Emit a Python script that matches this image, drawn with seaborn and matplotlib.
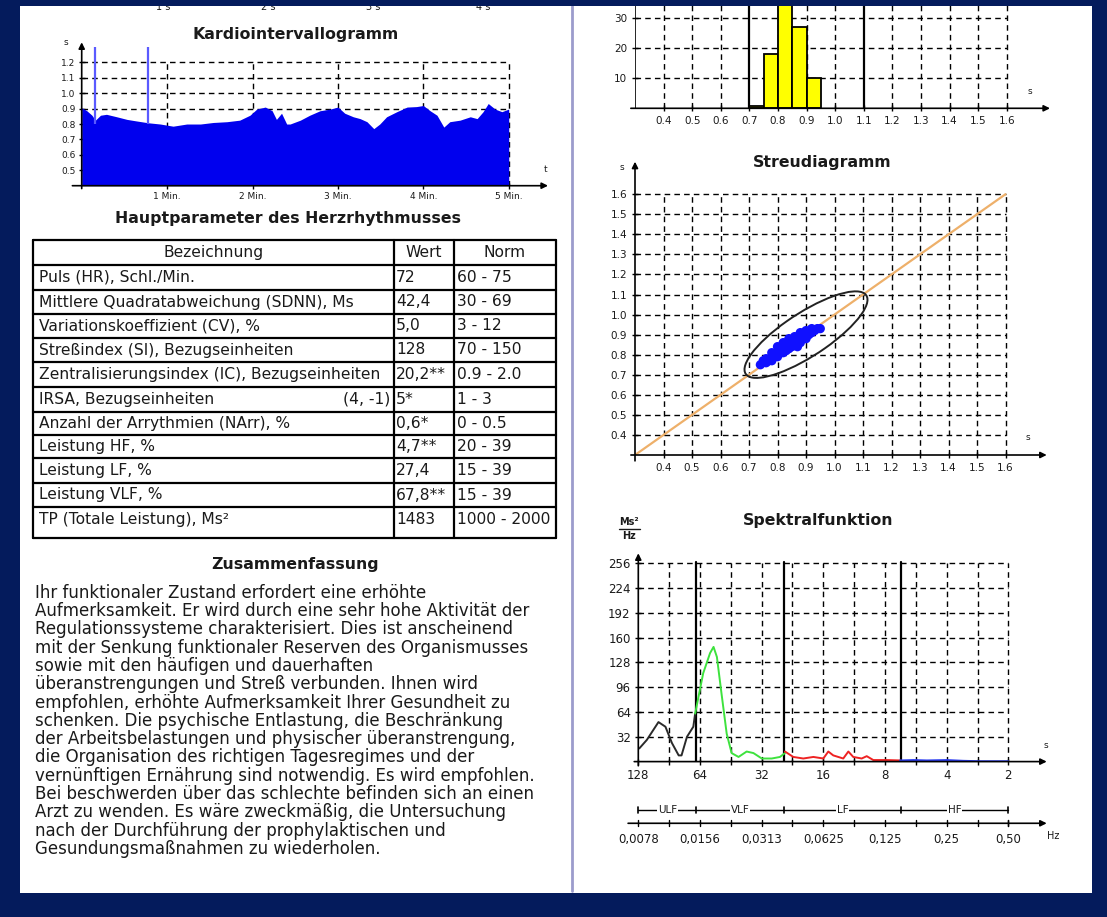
import matplotlib
matplotlib.use("Agg")
import matplotlib.pyplot as plt
import seaborn as sns
from matplotlib.patches import Rectangle, Ellipse
from matplotlib.ticker import NullFormatter

sns.set_theme(style="white")
plt.rcParams["font.family"] = ["DejaVu Sans"]

W, H = 1107, 917
NAVY = "#041b5c"

# ----------------------------
# Data
# ----------------------------
# Kardiointervallogramm: time (min) and RR interval (s)
kardio_t = [0.00, 0.06, 0.12, 0.16, 0.22, 0.29, 0.41, 0.53, 0.64, 0.78,
            0.92, 1.07, 1.23, 1.39, 1.54, 1.70, 1.85, 1.97, 2.05, 2.15,
            2.23, 2.28, 2.34, 2.40, 2.44, 2.56, 2.67, 2.79, 2.91, 3.00,
            3.08, 3.18, 3.26, 3.34, 3.42, 3.49, 3.57, 3.69, 3.81, 3.92,
            4.00, 4.08, 4.16, 4.24, 4.31, 4.43, 4.55, 4.63, 4.70, 4.76,
            4.84, 4.92, 5.00]
kardio_rr = [0.906, 0.886, 0.857, 0.825, 0.857, 0.863, 0.847, 0.830, 0.820, 0.808,
             0.800, 0.786, 0.800, 0.800, 0.810, 0.815, 0.825, 0.857, 0.897, 0.910,
             0.886, 0.830, 0.870, 0.800, 0.800, 0.825, 0.857, 0.886, 0.897, 0.910,
             0.870, 0.847, 0.835, 0.815, 0.770, 0.800, 0.847, 0.880, 0.910, 0.913,
             0.920, 0.886, 0.857, 0.780, 0.815, 0.825, 0.847, 0.835, 0.880, 0.933,
             0.897, 0.880, 0.897]
spike_t = [0.156, 0.78]
spike_top = [1.30, 1.30]
kardio_yticks = [0.5, 0.6, 0.7, 0.8, 0.9, 1.0, 1.1, 1.2]
kardio_minutes = [1, 2, 3, 4, 5]
top_labels = ["1 s", "2 s", "3 s", "4 s"]

# Histogram of RR intervals
hist_left = [0.70, 0.75, 0.80, 0.85, 0.90]
hist_counts = [0.6, 18, 40, 27, 10]
hist_width = 0.05
axis_s_ticks = [0.4, 0.5, 0.6, 0.7, 0.8, 0.9, 1.0, 1.1, 1.2, 1.3, 1.4, 1.5, 1.6]
hist_yticks = [10, 20, 30]
hist_solid = [0.7, 1.1]

# Streudiagramm (RR_n vs RR_n+1)
rr_n = [0.74, 0.75, 0.76, 0.76, 0.77, 0.78, 0.78, 0.79, 0.80, 0.80,
        0.81, 0.82, 0.82, 0.83, 0.84, 0.84, 0.85, 0.86, 0.86, 0.87,
        0.88, 0.88, 0.89, 0.90, 0.90, 0.91, 0.92, 0.93, 0.94, 0.95,
        0.80, 0.82, 0.84, 0.86, 0.88, 0.90, 0.78, 0.83, 0.87, 0.92]
rr_n1 = [0.75, 0.77, 0.76, 0.78, 0.77, 0.79, 0.77, 0.80, 0.79, 0.81,
         0.81, 0.83, 0.81, 0.84, 0.83, 0.86, 0.84, 0.86, 0.87, 0.86,
         0.88, 0.86, 0.89, 0.88, 0.90, 0.90, 0.91, 0.92, 0.93, 0.93,
         0.84, 0.86, 0.88, 0.89, 0.91, 0.92, 0.81, 0.82, 0.84, 0.93]
diag = [0.3, 1.6]
ellipse_center = (0.90, 0.90)
ellipse_len, ellipse_wid = 0.58, 0.19

# Spektralfunktion: frequency (Hz) and power (Ms^2/Hz)
ulf_f = [0.0079, 0.0086, 0.0098, 0.0106, 0.0114, 0.0123, 0.0127, 0.0135, 0.0145, 0.0148]
ulf_p = [17, 28, 51, 45, 24, 8, 8, 32, 45, 62]
vlf_f = [0.0148, 0.0162, 0.0175, 0.0182, 0.0189, 0.0199, 0.0211, 0.0223, 0.0241,
         0.0264, 0.0285, 0.0313, 0.0350, 0.0384, 0.0406]
vlf_p = [62, 114, 140, 148, 135, 88, 36, 11, 6, 13, 11, 4, 4, 6, 11]
lf_f = [0.0406, 0.0446, 0.0499, 0.0559, 0.0625, 0.0661, 0.0699, 0.0782, 0.0828,
        0.0875, 0.0962, 0.1018, 0.1096, 0.1274, 0.148]
lf_p = [13, 6, 4, 6, 4, 13, 8, 4, 13, 6, 4, 7, 2, 2, 1.5]
hf_f = [0.148, 0.172, 0.200, 0.250, 0.302, 0.364, 0.500]
hf_p = [1.5, 2, 1.5, 2, 1, 0.5, 0.5]
spec_yticks = [32, 64, 96, 128, 160, 192, 224, 256]
periods = [128, 64, 32, 16, 8, 4, 2]
hz_labels = ["0,0078", "0,0156", "0,0313", "0,0625", "0,125", "0,25", "0,50"]
band_edges = [1 / 128, 0.015, 0.04, 0.15, 0.5]
band_names = ["ULF", "VLF", "LF", "HF"]

# Table
col_headers = ["Bezeichnung", "Wert", "Norm"]
param_names = ["Puls (HR), Schl./Min.",
               "Mittlere Quadratabweichung (SDNN), Ms",
               "Variationskoeffizient (CV), %",
               "Streßindex (SI), Bezugseinheiten",
               "Zentralisierungsindex (IC), Bezugseinheiten",
               "IRSA, Bezugseinheiten",
               "Anzahl der Arrythmien (NArr), %",
               "Leistung HF, %",
               "Leistung LF, %",
               "Leistung VLF, %",
               "TP (Totale Leistung), Ms²"]
param_values = ["72", "42,4", "5,0", "128", "20,2**", "5*", "0,6*", "4,7**", "27,4", "67,8**", "1483"]
param_norms = ["60 - 75", "30 - 69", "3 - 12", "70 - 150", "0.9 - 2.0", "1 - 3",
               "0 - 0.5", "20 - 39", "15 - 39", "15 - 39", "1000 - 2000"]

summary_lines = [
    "Ihr funktionaler Zustand erfordert eine erhöhte",
    "Aufmerksamkeit. Er wird durch eine sehr hohe Aktivität der",
    "Regulationssysteme charakterisiert. Dies ist anscheinend",
    "mit der Senkung funktionaler Reserven des Organismusses",
    "sowie mit den häufigen und dauerhaften",
    "überanstrengungen und Streß verbunden. Ihnen wird",
    "empfohlen, erhöhte Aufmerksamkeit Ihrer Gesundheit zu",
    "schenken. Die psychische Entlastung, die Beschränkung",
    "der Arbeitsbelastungen und physischer überanstrengung,",
    "die Organisation des richtigen Tagesregimes und der",
    "vernünftigen Ernährung sind notwendig. Es wird empfohlen.",
    "Bei beschwerden über das schlechte befinden sich an einen",
    "Arzt zu wenden. Es wäre zweckmäßig, die Untersuchung",
    "nach der Durchführung der prophylaktischen und",
    "Gesundungsmaßnahmen zu wiederholen.",
]

# ----------------------------
# Page
# ----------------------------
fig = plt.figure(figsize=(W / 100, H / 100), dpi=100, facecolor=NAVY)

page = fig.add_axes([0, 0, 1, 1], zorder=0)
page.set_xlim(0, W)
page.set_ylim(H, 0)
page.axis("off")
page.add_patch(Rectangle((20, 6), 1072, 887, facecolor="white", edgecolor="none", zorder=0))
page.add_patch(Rectangle((0, 0), W, 6, facecolor=NAVY, edgecolor="none", zorder=10))
page.plot([572, 572], [6, 891], color="#9c9ccc", lw=2, zorder=1)

TXT = "#1a1a1a"
DASH = (0, (4, 3))
TITLE = 11.3
TABLE = 11.2


def place(x0, y0, x1, y1):
    ax = fig.add_axes([x0 / W, 1 - y1 / H, (x1 - x0) / W, (y1 - y0) / H], zorder=2)
    ax.set_facecolor("none")
    for sp in ax.spines.values():
        sp.set_visible(False)
    return ax


def arrows(ax, xstart=-0.02, ystart=-0.02, yaxis=True):
    ap = dict(arrowstyle="-|>", color="black", lw=1.2, mutation_scale=9, shrinkA=0, shrinkB=0)
    ax.annotate("", xy=(1, 0), xytext=(xstart, 0), xycoords="axes fraction", arrowprops=ap)
    if yaxis:
        ax.annotate("", xy=(0, 1), xytext=(0, ystart), xycoords="axes fraction", arrowprops=ap)


# ----------------------------
# Kardiointervallogramm
# ----------------------------
for x, lab in zip([163, 268, 373, 483], top_labels):
    page.text(x, 7, lab, ha="center", va="center", fontsize=7, color=TXT, zorder=3)
page.text(296, 34, "Kardiointervallogramm", ha="center", va="center",
          fontsize=TITLE, fontweight="bold", color=TXT)

ax = place(81.7, 42.3, 548, 185.7)
ax.set_xlim(0, 5.46)
ax.set_ylim(0.4, 1.33)
for v in [0.9, 1.0, 1.1, 1.2]:
    ax.plot([0, 5], [v, v], color="black", lw=1, ls=DASH, zorder=1)
for m in kardio_minutes:
    ax.plot([m, m], [0.4, 1.2], color="black", lw=1, ls=DASH, zorder=1)
ax.fill_between(kardio_t, 0.4, kardio_rr, color="#0000ee", lw=0, zorder=3)
ax.vlines(spike_t, 0.8, spike_top, color="#5a5aff", lw=1.6, zorder=4)
ax.set_yticks(kardio_yticks)
ax.set_yticklabels([f"{v:.1f}" for v in kardio_yticks])
ax.set_xticks(kardio_minutes)
ax.set_xticklabels([f"{m} Min." for m in kardio_minutes])
ax.tick_params(axis="both", direction="inout", length=5, width=1, color="black",
               labelsize=6.5, labelcolor=TXT, pad=2, left=True, bottom=True)
arrows(ax)
ax.text(-0.03, 1.0, "s", transform=ax.transAxes, ha="right", va="center", fontsize=6.5, color=TXT)
ax.text(0.995, 0.08, "t", transform=ax.transAxes, ha="center", va="bottom", fontsize=6.5, color=TXT)

# ----------------------------
# Table
# ----------------------------
page.text(288, 218, "Hauptparameter des Herzrhythmusses", ha="center", va="center",
          fontsize=TITLE, fontweight="bold", color=TXT)
row_edges = [240, 265, 290, 314, 338, 362, 387, 412, 435, 458, 483, 507, 538]
col_edges = [33, 393.5, 454, 556]
for y in row_edges:
    page.plot([col_edges[0], col_edges[-1]], [y, y], color="black", lw=1.6, zorder=2)
for x in col_edges:
    page.plot([x, x], [row_edges[0], row_edges[-1]], color="black", lw=1.6, zorder=2)
hy = (row_edges[0] + row_edges[1]) / 2
for lo, hi, head in zip(col_edges[:-1], col_edges[1:], col_headers):
    page.text((lo + hi) / 2, hy, head, ha="center", va="center", fontsize=TABLE, color=TXT)
for i, (nm, val, nrm) in enumerate(zip(param_names, param_values, param_norms)):
    yc = (row_edges[i + 1] + row_edges[i + 2]) / 2
    if i == len(param_names) - 1:
        yc -= 3
    page.text(39, yc, nm, ha="left", va="center", fontsize=TABLE, color=TXT)
    page.text(396, yc, val, ha="left", va="center", fontsize=TABLE, color=TXT)
    page.text(457, yc, nrm, ha="left", va="center", fontsize=TABLE, color=TXT)
    if nm.startswith("IRSA"):
        page.text(390, yc, "(4, -1)", ha="right", va="center", fontsize=TABLE, color=TXT)

# ----------------------------
# Summary
# ----------------------------
page.text(295, 565, "Zusammenfassung", ha="center", va="center",
          fontsize=TITLE, fontweight="bold", color=TXT)
for i, line in enumerate(summary_lines):
    page.text(35, 592.7 + i * 18.3, line, ha="left", va="center", fontsize=12, color=TXT)

# ----------------------------
# Histogram
# ----------------------------
ax = place(635, 6, 1050, 108.3)
ax.set_xlim(0.3, 0.3 + 415 / 286)
ax.set_ylim(0, 102.3 / 3)
for v in hist_yticks:
    ax.plot([0.3, 1.6], [v, v], color="black", lw=1, ls=DASH, zorder=1)
for v in axis_s_ticks:
    solid = any(abs(v - s) < 1e-9 for s in hist_solid)
    ax.plot([v, v], [0, 40], color="black", lw=1.6 if solid else 1, ls="-" if solid else DASH, zorder=1)
bins = hist_left + [hist_left[-1] + hist_width]
sns.histplot(x=[b + hist_width / 2 for b in hist_left], weights=hist_counts, bins=bins,
             color="#ffff00", edgecolor="black", linewidth=1.3, alpha=1, ax=ax, zorder=3)
ax.set_xlabel("")
ax.set_ylabel("")
ax.plot([0.3, 0.3], [0, 40], color="black", lw=1.2)
ax.set_xticks(axis_s_ticks)
ax.set_xticklabels([f"{v:.1f}" for v in axis_s_ticks])
ax.set_yticks(hist_yticks)
ax.set_yticklabels([str(v) for v in hist_yticks])
ax.tick_params(axis="both", direction="inout", length=5, width=1, color="black",
               labelsize=7.5, labelcolor=TXT, pad=3, left=True, bottom=True)
arrows(ax, xstart=-0.01, yaxis=False)
page.text(1030, 92, "s", ha="center", va="center", fontsize=6.5, color=TXT)

# ----------------------------
# Streudiagramm
# ----------------------------
page.text(822, 162, "Streudiagramm", ha="center", va="center",
          fontsize=TITLE, fontweight="bold", color=TXT)
ax = place(635, 161.7, 1046.7, 455)
ax.set_xlim(0.3, 0.3 + 411.7 / 285)
ax.set_ylim(0.3, 0.3 + 293.3 / 200.6)
for v in axis_s_ticks:
    ax.plot([0.3, 1.6], [v, v], color="black", lw=1, ls=DASH, zorder=1)
    ax.plot([v, v], [0.3, 1.6], color="black", lw=1, ls=DASH, zorder=1)
sns.lineplot(x=diag, y=diag, color="#eeb06a", lw=1.6, ax=ax, zorder=2)
ax.add_patch(Ellipse(ellipse_center, ellipse_len, ellipse_wid, angle=45,
                     facecolor="none", edgecolor="#222222", lw=1.4, zorder=3))
sns.scatterplot(x=rr_n, y=rr_n1, s=45, color="#1010ff", edgecolor="none", ax=ax, zorder=4)
ax.set_xticks(axis_s_ticks)
ax.set_xticklabels([f"{v:.1f}" for v in axis_s_ticks])
ax.set_yticks(axis_s_ticks)
ax.set_yticklabels([f"{v:.1f}" for v in axis_s_ticks])
ax.tick_params(axis="both", direction="inout", length=5, width=1, color="black",
               labelsize=7.5, labelcolor=TXT, pad=3, left=True, bottom=True)
arrows(ax, xstart=-0.01)
page.text(622, 168, "s", ha="center", va="center", fontsize=6.5, color=TXT)
page.text(1028, 438, "s", ha="center", va="center", fontsize=6.5, color=TXT)

# ----------------------------
# Spektralfunktion
# ----------------------------
page.text(818, 520, "Spektralfunktion", ha="center", va="center",
          fontsize=TITLE, fontweight="bold", color=TXT)
page.text(629, 522, "Ms²", ha="center", va="center", fontsize=7, fontweight="bold", color=TXT)
page.plot([619, 640], [529, 529], color=TXT, lw=1)
page.text(629, 536, "Hz", ha="center", va="center", fontsize=7, fontweight="bold", color=TXT)

ax = place(638.3, 553.3, 1046.7, 761.6)
ax.set_xscale("log", base=2)
ax.set_xlim(2 ** -7, 2 ** -0.378)
ax.set_ylim(0, 268.8)
half_oct = [2 ** (k / 2) for k in range(-13, -1)]
for v in spec_yticks:
    ax.plot([2 ** -7, 0.5], [v, v], color="black", lw=1, ls=DASH, zorder=1)
for f in half_oct:
    ax.plot([f, f], [0, 256], color="black", lw=1, ls=DASH, zorder=1)
for f in band_edges[1:-1]:
    ax.plot([f, f], [0, 258], color="black", lw=1.6, zorder=1)
for f_, p_, c in [(ulf_f, ulf_p, "#2a2a2a"), (vlf_f, vlf_p, "#3ee23e"),
                  (lf_f, lf_p, "#ee2222"), (hf_f, hf_p, "#2a3cf0")]:
    sns.lineplot(x=f_, y=p_, color=c, lw=1.4, sort=False, ax=ax, zorder=3)
ax.set_yticks(spec_yticks)
ax.set_yticklabels([str(v) for v in spec_yticks])
ax.set_xticks([1 / p for p in periods])
ax.set_xticklabels([str(p) for p in periods])
ax.set_xticks(half_oct, minor=True)
ax.xaxis.set_minor_formatter(NullFormatter())
ax.tick_params(axis="both", which="both", direction="inout", length=5, width=1, color="black",
               labelsize=8.5, labelcolor=TXT, pad=3, left=True, bottom=True)
arrows(ax, xstart=-0.01)
page.text(1046, 745, "s", ha="center", va="center", fontsize=6.5, color=TXT)

# frequency band bar
yb = -62.5
ax.plot([band_edges[0], band_edges[-1]], [yb, yb], color="black", lw=1, clip_on=False)
for f in band_edges:
    ax.plot([f, f], [yb - 4, yb + 4], color="black", lw=1.2, clip_on=False)
for lo, hi, name in zip(band_edges[:-1], band_edges[1:], band_names):
    ax.text((lo * hi) ** 0.5, yb, name, ha="center", va="center", fontsize=7.5, color=TXT,
            bbox=dict(facecolor="white", edgecolor="none", pad=0.5), clip_on=False)

# Hz axis
yh = -79.6
ax.annotate("", xy=(1, yh), xytext=(-0.025, yh), xycoords=("axes fraction", "data"),
            arrowprops=dict(arrowstyle="-|>", color="black", lw=1.2, mutation_scale=9, shrinkA=0, shrinkB=0))
for f in half_oct + [2 ** -7, 0.5]:
    ax.plot([f, f], [yh - 4, yh + 4], color="black", lw=1, clip_on=False)
for p, lab in zip(periods, hz_labels):
    ax.text(1 / p, -101, lab, ha="center", va="center", fontsize=8.5, color=TXT, clip_on=False)
page.text(1053, 836, "Hz", ha="center", va="center", fontsize=7, color=TXT)

fig.savefig("out.png", dpi=100, facecolor=NAVY)
